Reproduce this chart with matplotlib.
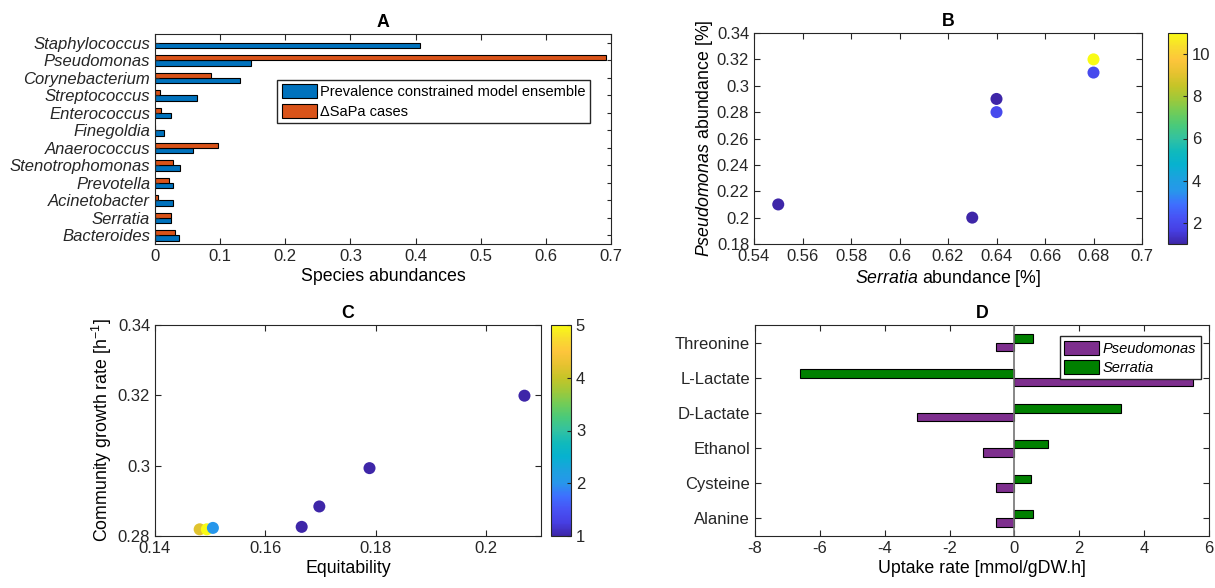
import numpy as np
import matplotlib
matplotlib.use("Agg")
import matplotlib.pyplot as plt
from matplotlib.colors import LinearSegmentedColormap

plt.rcParams["font.family"] = ["Liberation Sans", "DejaVu Sans"]
plt.rcParams["mathtext.fontset"] = "custom"
plt.rcParams["mathtext.rm"] = "Liberation Sans"
plt.rcParams["mathtext.it"] = "Liberation Sans:italic"
plt.rcParams["axes.unicode_minus"] = False
plt.rcParams["font.size"] = 12
plt.rcParams["axes.labelsize"] = 12.8
plt.rcParams["axes.titlesize"] = 12.8

# ---- data ----
species = ["Staphylococcus", "Pseudomonas", "Corynebacterium", "Streptococcus",
           "Enterococcus", "Finegoldia", "Anaerococcus", "Stenotrophomonas",
           "Prevotella", "Acinetobacter", "Serratia", "Bacteroides"]
ensemble = [0.407, 0.148, 0.130, 0.064, 0.024, 0.014, 0.058, 0.038, 0.027, 0.027, 0.024, 0.037]
sapa = [0.0, 0.693, 0.086, 0.007, 0.0085, 0.0, 0.097, 0.028, 0.022, 0.005, 0.024, 0.030]

serratia_ab = [0.55, 0.63, 0.64, 0.64, 0.68, 0.68]
pseudo_ab = [0.21, 0.20, 0.29, 0.28, 0.32, 0.31]
b_counts = [1, 1, 1, 2, 11, 2]

equitability = [0.1481, 0.1494, 0.1505, 0.1666, 0.1698, 0.1789, 0.2070]
growth = [0.2819, 0.2819, 0.2823, 0.2826, 0.2884, 0.2993, 0.3199]
c_counts = [4.2, 5, 2, 1, 1, 1, 1]

metabolites = ["Threonine", "L-Lactate", "D-Lactate", "Ethanol", "Cysteine", "Alanine"]
pseudo_uptake = [-0.58, 5.52, -2.99, -0.96, -0.58, -0.58]
serratia_uptake = [0.56, -6.61, 3.30, 1.02, 0.51, 0.56]

# parula-like colormap
parula = LinearSegmentedColormap.from_list("parula", [
    (0.2422, 0.1504, 0.6603), (0.2760, 0.2455, 0.8900), (0.2810, 0.3228, 0.9578),
    (0.2440, 0.4358, 0.9988), (0.1540, 0.5902, 0.9218), (0.1085, 0.6330, 0.8725),
    (0.0265, 0.6949, 0.8136), (0.0590, 0.7259, 0.7398), (0.1959, 0.7584, 0.6321),
    (0.2870, 0.7917, 0.4776), (0.4420, 0.8000, 0.3470), (0.6229, 0.7863, 0.2279),
    (0.7725, 0.7709, 0.1547), (0.9047, 0.7613, 0.1887), (0.9934, 0.7743, 0.2341),
    (0.9722, 0.8647, 0.1794), (0.9769, 0.9839, 0.0805)])

W, H = 1215, 588
fig = plt.figure(figsize=(W / 100, H / 100), dpi=100)


def ax_px(l, r, t, b):
    return fig.add_axes([l / W, 1 - b / H, (r - l) / W, (b - t) / H])


def matlab_style(ax):
    for s in ax.spines.values():
        s.set_color("0.15")
        s.set_linewidth(0.8)
    ax.tick_params(direction="in", top=True, right=True, colors="0.15",
                   labelcolor="0.15", length=4, width=0.8)


leg_kw = dict(fancybox=False, edgecolor="0.15", handlelength=2.4, handleheight=1.1,
              borderpad=0.3, labelspacing=0.3, handletextpad=0.25, borderaxespad=0,
              framealpha=1)

blue = (0, 0.447, 0.741)
orange = (0.85, 0.325, 0.098)
purple = (0.494, 0.184, 0.556)
green = (0, 0.5, 0)

# ===== A =====
axA = ax_px(155, 611, 34, 244)
y = np.arange(len(species))
bh = 0.3
axA.barh(y + bh / 2, ensemble, height=bh, color=blue, edgecolor="black", linewidth=0.8,
         label="Prevalence constrained model ensemble")
axA.barh(y - bh / 2, sapa, height=bh, color=orange, edgecolor="black", linewidth=0.8,
         label="\u0394SaPa cases")
axA.set_yticks(y)
axA.set_yticklabels(species, style="italic")
axA.set_ylim(11.5, -0.5)
axA.set_xlim(0, 0.7)
axA.set_xticks(np.arange(0, 0.71, 0.1))
axA.set_xticklabels(["0", "0.1", "0.2", "0.3", "0.4", "0.5", "0.6", "0.7"])
axA.set_xlabel("Species abundances", labelpad=3)
axA.set_title("A", fontweight="bold", pad=5)
matlab_style(axA)
axA.tick_params(axis="y", length=3)
axA.legend(loc="upper right", bbox_to_anchor=(0.954, 0.781), prop={"size": 10.5}, **leg_kw)

# ===== B =====
axB = ax_px(754, 1142, 33, 244)
scB = axB.scatter(serratia_ab, pseudo_ab, c=b_counts, cmap=parula, vmin=1, vmax=11,
                  s=75, linewidths=0)
axB.set_xlim(0.54, 0.7)
axB.set_ylim(0.18, 0.34)
axB.set_xticks(np.arange(0.54, 0.7001, 0.02))
axB.set_xticklabels(["0.54", "0.56", "0.58", "0.6", "0.62", "0.64", "0.66", "0.68", "0.7"])
axB.set_yticks(np.arange(0.18, 0.3401, 0.02))
axB.set_yticklabels(["0.18", "0.2", "0.22", "0.24", "0.26", "0.28", "0.3", "0.32", "0.34"])
axB.set_xlabel("$\\it{Serratia}$ abundance [%]", labelpad=3)
axB.set_ylabel("$\\it{Pseudomonas}$ abundance [%]", labelpad=1)
axB.set_title("B", fontweight="bold", pad=5)
matlab_style(axB)
caxB = ax_px(1168, 1187, 33, 244)
cbB = fig.colorbar(scB, cax=caxB, ticks=[2, 4, 6, 8, 10])
cbB.outline.set_edgecolor("0.15")
caxB.tick_params(direction="in", colors="0.15", length=3)

# ===== C =====
axC = ax_px(155, 541, 325, 536)
scC = axC.scatter(equitability, growth, c=c_counts, cmap=parula, vmin=1, vmax=5,
                  s=75, linewidths=0)
axC.set_xlim(0.14, 0.21)
axC.set_ylim(0.28, 0.34)
axC.set_xticks([0.14, 0.16, 0.18, 0.2])
axC.set_xticklabels(["0.14", "0.16", "0.18", "0.2"])
axC.set_yticks([0.28, 0.3, 0.32, 0.34])
axC.set_yticklabels(["0.28", "0.3", "0.32", "0.34"])
axC.set_xlabel("Equitability", labelpad=3)
axC.set_ylabel("Community growth rate [h$^{-1}$]", labelpad=3)
axC.set_title("C", fontweight="bold", pad=5)
matlab_style(axC)
caxC = ax_px(551, 571, 325, 536)
cbC = fig.colorbar(scC, cax=caxC, ticks=[1, 2, 3, 4, 5])
cbC.outline.set_edgecolor("0.15")
caxC.tick_params(direction="in", colors="0.15", length=3)

# ===== D =====
axD = ax_px(755, 1209, 325, 536)
yd = np.arange(len(metabolites))
dh = 0.24
axD.barh(yd + dh / 2, pseudo_uptake, height=dh, color=purple, edgecolor="black",
         linewidth=0.8, label="Pseudomonas")
axD.barh(yd - dh / 2, serratia_uptake, height=dh, color=green, edgecolor="black",
         linewidth=0.8, label="Serratia")
axD.axvline(0, color="0.45", linewidth=1.2, zorder=3)
axD.set_yticks(yd)
axD.set_yticklabels(metabolites)
axD.set_ylim(5.5, -0.5)
axD.set_xlim(-8, 6)
axD.set_xticks(np.arange(-8, 7, 2))
axD.set_xlabel("Uptake rate [mmol/gDW.h]", labelpad=3)
axD.set_title("D", fontweight="bold", pad=5)
matlab_style(axD)
axD.legend(loc="upper right", bbox_to_anchor=(0.982, 0.946),
           prop={"style": "italic", "size": 10.5}, **leg_kw)

fig.savefig("out.png", dpi=100)
